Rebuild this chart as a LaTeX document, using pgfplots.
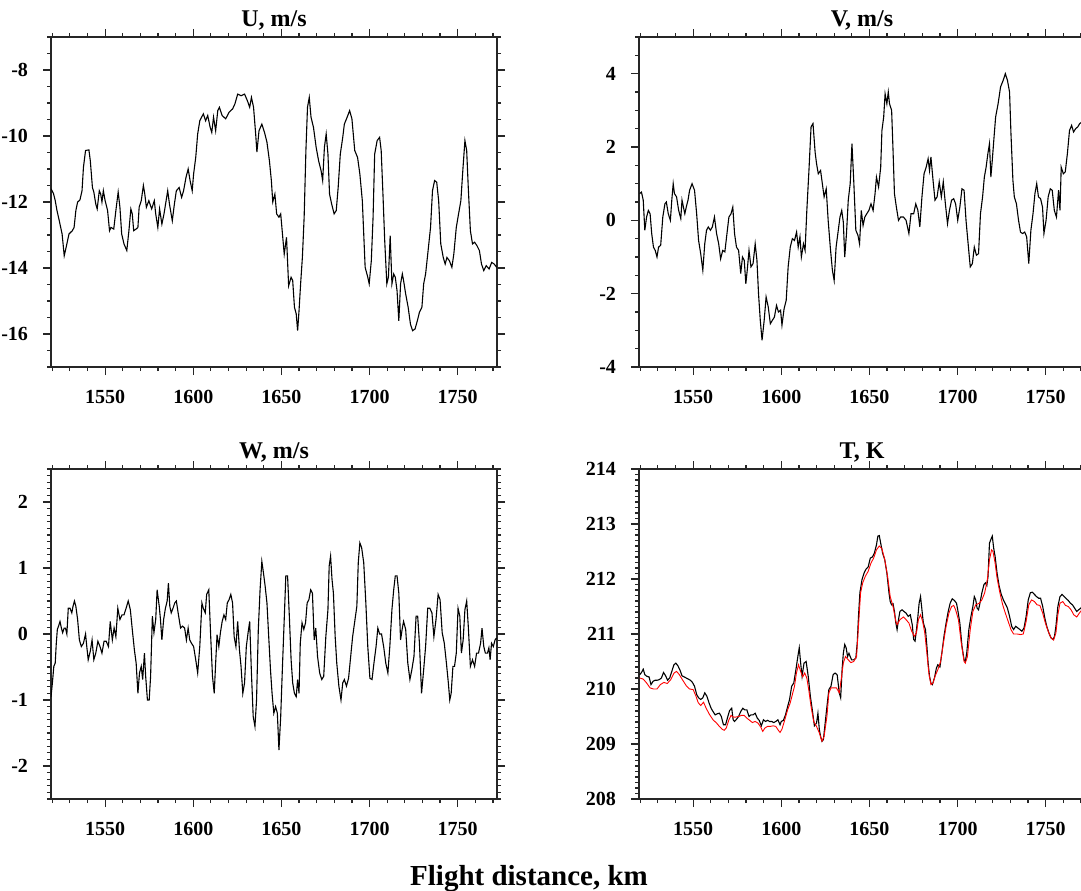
\documentclass[border=0pt]{standalone}
\usepackage{fontspec}
\setmainfont{Liberation Serif}
\usepackage{pgfplots}
\pgfplotsset{compat=1.18}

\pgfplotsset{
  panel/.style={
    scale only axis, width=223pt, height=165pt,
    xmin=1519.3, xmax=1772.3,
    xtick={1550,1600,...,1750},
    minor xtick={1520,1530,...,1770},
    tick align=outside, tick pos=both,
    major tick length=4pt, minor tick length=2pt,
    axis line style={line width=0.7pt, black!85},
    tick style={black!85, line width=0.6pt},
    ticklabel style={font=\bfseries\fontsize{10}{12}\selectfont},
    /pgf/number format/assume math mode=true,
    /pgf/number format/1000 sep={},
    yticklabel style={xshift=-4pt},
    xticklabel style={yshift=-4pt},
    title style={at={(0.5,1)}, anchor=base, yshift=-0.9pt,
                 font=\bfseries\fontsize{12}{14}\selectfont},
  },
  trace/.style={black, line width=0.55pt, mark=none},
}

\begin{document}
\begin{tikzpicture}
\useasboundingbox (0,0) rectangle (540.5pt,445pt);

% U
\begin{axis}[panel, at={(25.5pt,261.5pt)}, anchor=south west,
  title={U, m/s}, ymin=-17, ymax=-7,
  ytick={-16,-14,...,-8}, minor ytick={-17,-16.5,...,-7}]
\addplot[trace] coordinates {
(1519.3,-11.60)(1520.7,-11.74)(1521.7,-11.96)(1522.7,-12.26)(1524.0,-12.57)(1525.6,-12.97)(1526.8,-13.63)(1527.9,-13.37)
(1529.5,-12.97)(1531.4,-12.87)(1532.4,-12.77)(1533.4,-12.26)(1534.4,-12.00)(1535.7,-11.94)(1536.9,-11.66)(1537.7,-10.95)
(1538.9,-10.44)(1540.8,-10.42)(1541.6,-10.75)(1542.8,-11.56)(1543.6,-11.70)(1544.7,-12.06)(1545.5,-12.21)(1546.7,-11.66)
(1547.5,-11.76)(1548.2,-12.00)(1549.0,-11.66)(1550.0,-11.96)(1551.4,-12.26)(1552.5,-12.87)(1553.3,-12.77)(1554.9,-12.82)
(1556.1,-12.26)(1557.4,-11.70)(1558.4,-12.16)(1559.4,-12.97)(1560.7,-13.27)(1562.3,-13.47)(1563.5,-12.87)(1564.6,-12.21)
(1565.4,-12.36)(1566.2,-12.87)(1567.6,-12.82)(1568.6,-12.77)(1569.3,-12.16)(1570.5,-11.96)(1571.7,-11.50)(1572.5,-11.76)
(1573.4,-12.16)(1574.8,-11.96)(1576.4,-12.21)(1577.9,-11.96)(1578.7,-12.36)(1579.9,-12.77)(1580.9,-12.21)(1582.2,-12.67)
(1583.4,-12.36)(1584.6,-11.96)(1585.5,-11.66)(1586.5,-12.06)(1588.1,-12.57)(1589.3,-12.06)(1590.4,-11.66)(1592.0,-11.56)
(1593.4,-11.86)(1594.5,-11.66)(1595.9,-11.25)(1597.1,-11.00)(1598.2,-11.35)(1599.4,-11.66)(1600.2,-11.15)(1601.4,-10.65)
(1602.5,-9.94)(1603.7,-9.54)(1605.7,-9.33)(1607.0,-9.54)(1608.2,-9.38)(1609.6,-9.74)(1610.5,-9.89)(1611.5,-9.43)
(1612.7,-9.84)(1613.9,-9.23)(1614.8,-9.13)(1616.4,-9.38)(1618.4,-9.48)(1620.3,-9.28)(1622.3,-9.18)(1623.6,-9.03)
(1625.2,-8.73)(1627.1,-8.78)(1629.1,-8.73)(1630.7,-8.93)(1632.0,-9.13)(1633.0,-8.83)(1634.2,-9.13)(1635.4,-9.94)
(1636.1,-10.49)(1637.3,-9.84)(1638.9,-9.64)(1640.4,-9.89)(1641.8,-10.19)(1643.2,-10.75)(1644.3,-11.35)(1645.1,-12.00)
(1646.3,-11.76)(1647.3,-12.36)(1648.6,-12.46)(1649.6,-12.36)(1650.6,-12.97)(1651.6,-13.58)(1652.9,-13.07)(1654.1,-14.54)
(1655.5,-14.28)(1656.4,-14.38)(1657.4,-15.19)(1658.4,-15.39)(1659.2,-15.90)(1660.0,-15.29)(1660.9,-14.48)(1661.9,-13.68)
(1662.9,-12.46)(1663.9,-10.44)(1664.8,-9.13)(1665.8,-8.83)(1666.8,-9.43)(1668.2,-9.74)(1669.7,-10.34)(1671.1,-10.75)
(1672.5,-11.05)(1673.4,-11.35)(1674.4,-10.34)(1675.4,-9.94)(1676.4,-10.55)(1677.3,-11.76)(1678.5,-12.06)(1679.9,-12.36)
(1681.1,-12.26)(1682.2,-11.56)(1683.4,-10.55)(1684.8,-10.04)(1685.7,-9.64)(1687.3,-9.43)(1688.7,-9.23)(1690.0,-9.48)
(1691.6,-10.44)(1693.2,-10.65)(1694.5,-11.15)(1695.9,-11.96)(1697.5,-13.98)(1699.0,-14.28)(1699.8,-14.48)(1701.0,-13.78)
(1702.0,-12.46)(1702.9,-10.55)(1704.3,-10.14)(1705.7,-10.04)(1706.6,-10.44)(1707.6,-11.76)(1708.6,-13.17)(1709.8,-14.48)
(1710.7,-14.28)(1711.7,-13.02)(1712.7,-14.48)(1713.7,-14.18)(1714.6,-14.28)(1715.6,-14.69)(1716.6,-15.60)(1717.6,-14.48)
(1718.6,-14.18)(1719.3,-14.38)(1720.5,-14.79)(1721.9,-15.19)(1723.2,-15.70)(1724.4,-15.90)(1725.8,-15.85)(1727.1,-15.60)
(1728.3,-15.34)(1729.7,-15.19)(1730.7,-14.48)(1731.8,-14.18)(1733.0,-13.58)(1734.6,-12.77)(1735.7,-11.66)(1736.9,-11.35)
(1738.1,-11.40)(1739.2,-11.96)(1740.4,-13.27)(1741.8,-13.68)(1742.9,-13.88)(1743.9,-13.68)(1745.3,-13.78)(1746.7,-13.98)
(1747.8,-13.58)(1749.2,-12.77)(1750.5,-12.36)(1751.8,-11.96)(1752.9,-11.05)(1754.1,-10.14)(1755.1,-10.44)(1756.0,-11.56)
(1757.2,-12.87)(1758.4,-13.27)(1759.6,-13.22)(1760.9,-13.32)(1762.3,-13.47)(1763.5,-13.88)(1764.8,-14.08)(1766.2,-13.93)
(1767.8,-14.03)(1769.3,-13.83)(1770.7,-13.88)(1772.1,-13.98)
};
\end{axis}

% V
\begin{axis}[panel, at={(319.5pt,261.5pt)}, anchor=south west,
  title={V, m/s}, ymin=-4, ymax=5,
  ytick={-4,-2,...,4}, minor ytick={-4,-3.5,...,5}]
\addplot[trace] coordinates {
(1519.7,0.73)(1520.7,0.77)(1521.7,0.55)(1522.6,-0.27)(1523.6,0.09)(1524.6,0.27)(1525.6,0.18)(1526.5,-0.36)
(1527.5,-0.73)(1528.5,-0.82)(1529.5,-1.00)(1530.4,-0.73)(1531.6,-0.68)(1532.8,0.09)(1534.0,0.45)(1534.8,0.50)
(1535.9,0.18)(1537.1,0.00)(1537.9,0.55)(1538.7,1.00)(1539.4,0.73)(1540.6,0.64)(1541.8,0.27)(1543.0,0.05)
(1543.7,0.55)(1544.5,0.36)(1545.3,0.18)(1546.1,0.36)(1547.1,0.55)(1548.0,0.82)(1549.4,1.00)(1550.8,0.82)
(1552.0,0.18)(1553.1,-0.55)(1554.3,-0.91)(1555.5,-1.36)(1556.6,-0.64)(1557.6,-0.27)(1558.6,-0.18)(1559.8,-0.27)
(1560.9,-0.18)(1562.1,0.09)(1563.3,-0.36)(1564.5,-0.64)(1565.6,-1.05)(1566.8,-0.82)(1568.0,-0.86)(1569.2,-0.36)
(1570.3,0.09)(1571.5,0.18)(1572.5,0.36)(1573.5,-0.36)(1574.6,-0.73)(1575.8,-0.82)(1577.0,-1.45)(1578.0,-1.00)
(1579.0,-1.09)(1579.9,-1.73)(1580.7,-1.36)(1581.7,-0.82)(1582.8,-1.27)(1584.0,-1.18)(1585.2,-0.64)(1586.2,-1.09)
(1587.1,-2.00)(1588.1,-2.73)(1589.1,-3.27)(1590.3,-2.73)(1591.4,-2.09)(1592.6,-2.36)(1593.8,-2.82)(1594.9,-2.73)
(1596.1,-2.64)(1597.3,-2.32)(1598.4,-2.50)(1599.6,-2.45)(1600.4,-2.86)(1601.6,-2.41)(1602.8,-2.18)(1603.9,-1.27)
(1605.1,-0.73)(1606.3,-0.50)(1607.5,-0.55)(1608.7,-0.32)(1609.6,-0.73)(1610.6,-0.45)(1611.4,-1.00)(1612.6,-0.64)
(1613.5,-0.82)(1614.5,0.27)(1615.7,1.36)(1616.9,2.55)(1618.0,2.64)(1619.2,1.86)(1620.0,1.55)(1621.0,1.27)
(1622.3,1.36)(1623.3,1.00)(1624.3,0.64)(1625.5,0.86)(1626.6,0.00)(1627.8,-0.73)(1629.0,-1.36)(1630.0,-1.64)
(1631.1,-0.73)(1632.1,-0.36)(1633.3,0.09)(1634.3,0.27)(1635.2,-0.05)(1636.0,-1.00)(1637.0,-0.36)(1638.0,0.55)
(1639.1,1.00)(1640.1,2.09)(1641.1,1.09)(1642.3,-0.27)(1643.5,-0.41)(1644.4,-0.64)(1645.4,0.27)(1646.4,-0.14)
(1647.4,0.09)(1648.5,0.18)(1649.7,0.27)(1650.9,0.45)(1652.1,0.27)(1653.2,0.73)(1654.0,1.18)(1655.2,0.91)
(1656.4,1.45)(1657.1,2.45)(1658.1,2.82)(1658.9,3.45)(1659.9,3.18)(1660.7,3.50)(1661.4,3.18)(1662.6,3.00)
(1663.4,1.91)(1664.2,0.73)(1665.3,0.36)(1666.5,0.00)(1667.7,0.09)(1669.3,0.09)(1670.8,0.00)(1672.4,-0.36)
(1673.6,0.18)(1675.1,0.18)(1676.3,0.45)(1677.5,0.27)(1678.6,-0.18)(1679.8,0.64)(1681.0,1.27)(1682.2,1.45)
(1683.3,1.68)(1684.1,1.36)(1684.9,1.73)(1686.1,1.09)(1687.2,0.55)(1688.4,0.64)(1689.6,1.05)(1690.8,0.64)
(1691.9,1.05)(1693.1,0.45)(1694.3,-0.09)(1695.4,0.27)(1696.6,0.55)(1697.8,0.59)(1698.9,0.45)(1700.1,0.00)
(1701.3,0.36)(1702.5,0.86)(1703.7,0.82)(1704.8,0.00)(1706.0,-0.64)(1707.2,-1.27)(1708.4,-1.18)(1709.5,-0.73)
(1710.7,-0.95)(1711.9,-0.91)(1713.0,0.18)(1714.2,0.64)(1715.2,1.18)(1716.2,1.45)(1717.2,1.82)(1718.1,2.09)
(1718.9,1.18)(1719.7,1.64)(1720.7,2.27)(1721.6,2.82)(1723.0,3.18)(1724.4,3.64)(1725.9,3.82)(1727.1,4.00)
(1728.3,3.82)(1729.5,3.50)(1730.3,2.36)(1731.4,1.09)(1732.2,0.64)(1733.4,0.45)(1734.6,0.00)(1735.7,-0.32)
(1736.9,-0.36)(1738.1,-0.32)(1739.2,-0.45)(1740.4,-1.18)(1741.6,-0.27)(1742.8,0.18)(1743.9,0.73)(1744.9,1.00)
(1745.9,0.64)(1747.1,0.59)(1748.2,0.36)(1749.0,-0.36)(1750.2,0.00)(1751.4,0.64)(1752.6,0.86)(1753.7,0.82)
(1754.9,0.27)(1756.1,0.09)(1757.3,0.82)(1758.1,0.27)(1758.8,1.45)(1760.0,1.27)(1761.1,1.32)(1762.3,1.82)
(1763.5,2.45)(1764.7,2.59)(1765.8,2.41)(1767.0,2.50)(1768.2,2.55)(1769.3,2.64)(1770.5,2.68)(1772.0,2.70)
};
\end{axis}

% W
\begin{axis}[panel, at={(25.5pt,45.5pt)}, anchor=south west,
  title={W, m/s}, ymin=-2.5, ymax=2.5,
  ytick={-2,-1,...,2}, minor ytick={-2.5,-2.4,...,2.5}]
\addplot[trace] coordinates {
(1519.3,-0.95)(1520.1,-0.74)(1520.9,-0.49)(1521.7,-0.44)(1522.3,-0.14)(1522.9,0.07)(1523.6,0.12)(1524.4,0.19)
(1525.2,0.09)(1525.9,0.02)(1526.8,0.09)(1527.5,0.09)(1528.3,0.00)(1529.1,0.39)(1530.1,0.39)(1531.1,0.32)
(1531.8,0.42)(1532.6,0.50)(1533.4,0.42)(1534.4,0.22)(1535.4,-0.09)(1536.5,-0.19)(1537.7,-0.14)(1538.9,0.00)
(1539.6,-0.19)(1540.4,-0.39)(1541.6,-0.26)(1542.6,-0.09)(1543.6,-0.39)(1544.7,-0.29)(1545.9,-0.11)(1547.1,-0.19)
(1548.2,-0.29)(1549.4,-0.11)(1550.6,-0.11)(1551.9,-0.19)(1552.9,0.19)(1554.1,-0.09)(1555.1,0.09)(1556.1,-0.04)
(1557.2,0.39)(1558.4,0.22)(1559.6,0.29)(1560.7,0.29)(1561.9,0.39)(1563.1,0.50)(1564.3,0.37)(1565.4,0.07)
(1566.6,-0.24)(1567.6,-0.44)(1568.6,-0.90)(1569.5,-0.59)(1570.5,-0.49)(1571.3,-0.69)(1572.3,-0.29)(1573.0,-0.64)
(1574.0,-1.00)(1575.0,-1.00)(1575.8,-0.64)(1576.8,0.27)(1577.7,0.02)(1578.7,0.22)(1579.5,0.67)(1580.7,0.42)
(1581.4,0.22)(1582.2,-0.09)(1583.2,0.22)(1584.2,0.39)(1585.2,0.50)(1585.9,0.77)(1586.7,0.42)(1587.5,0.32)
(1588.5,0.39)(1589.5,0.47)(1590.4,0.50)(1591.6,0.29)(1592.8,0.09)(1593.9,0.12)(1595.1,0.09)(1596.1,-0.09)
(1597.1,0.09)(1598.0,-0.09)(1599.0,-0.14)(1600.2,-0.19)(1601.4,-0.39)(1602.5,-0.59)(1603.7,-0.19)(1604.9,0.47)
(1605.7,0.39)(1606.8,0.32)(1607.6,0.60)(1608.8,0.67)(1609.9,-0.04)(1610.9,-0.64)(1611.9,-0.90)(1612.7,-0.44)
(1613.5,-0.01)(1614.5,-0.19)(1615.4,0.02)(1616.4,0.19)(1617.4,0.29)(1618.4,0.22)(1619.3,0.47)(1620.3,0.52)
(1621.3,0.60)(1622.3,0.47)(1623.2,-0.04)(1624.2,-0.19)(1625.2,0.19)(1626.2,-0.24)(1627.1,-0.49)(1628.1,-0.90)
(1629.1,-0.74)(1630.1,-0.19)(1631.1,0.02)(1632.0,0.19)(1633.0,-0.59)(1634.0,-1.25)(1635.0,-1.40)(1635.9,-1.00)
(1636.9,0.07)(1637.9,0.67)(1638.9,1.10)(1639.8,0.93)(1640.8,0.72)(1641.8,0.47)(1642.8,-0.04)(1643.8,-0.54)
(1644.7,-0.90)(1645.7,-1.20)(1646.7,-1.10)(1647.7,-1.20)(1648.6,-1.76)(1649.6,-1.25)(1650.6,-0.49)(1651.6,0.22)
(1652.5,0.88)(1653.5,0.88)(1654.5,0.27)(1655.5,-0.39)(1656.4,-0.74)(1657.4,-0.90)(1658.4,-0.95)(1659.2,-0.69)
(1660.0,-0.90)(1660.7,-0.14)(1661.7,0.17)(1662.7,0.07)(1663.7,0.17)(1664.6,0.47)(1665.6,0.52)(1666.6,0.67)
(1667.6,0.62)(1668.6,-0.09)(1669.5,0.09)(1670.5,-0.34)(1671.7,-0.59)(1672.9,-0.69)(1674.0,-0.64)(1675.2,-0.04)
(1676.4,0.37)(1677.1,1.03)(1677.9,1.18)(1678.7,0.83)(1679.5,0.62)(1680.5,-0.04)(1681.4,-0.44)(1682.6,-0.79)
(1683.8,-1.00)(1684.8,-0.74)(1685.7,-0.69)(1686.9,-0.79)(1688.1,-0.67)(1689.3,-0.34)(1690.4,-0.04)(1691.6,0.19)
(1692.8,0.42)(1693.6,1.08)(1694.5,1.38)(1695.5,1.31)(1696.7,1.08)(1697.9,0.47)(1699.0,-0.19)(1700.2,-0.67)
(1701.4,-0.69)(1702.5,-0.44)(1703.7,-0.19)(1704.7,0.09)(1705.7,0.00)(1706.8,0.00)(1708.0,-0.19)(1709.2,-0.44)
(1710.4,-0.59)(1711.5,-0.19)(1712.7,0.37)(1713.7,0.67)(1714.6,0.88)(1715.6,0.88)(1716.6,0.62)(1717.6,-0.09)
(1718.6,0.09)(1719.3,0.19)(1720.5,0.07)(1721.7,-0.44)(1722.9,-0.69)(1724.0,-0.54)(1725.2,-0.34)(1726.4,0.27)
(1727.3,0.27)(1728.3,-0.14)(1729.5,-0.90)(1730.7,-0.54)(1731.8,-0.19)(1733.0,0.39)(1734.2,0.39)(1735.4,0.32)
(1736.5,-0.04)(1737.7,0.22)(1738.9,0.60)(1740.0,0.52)(1741.2,0.02)(1742.4,-0.14)(1743.6,-0.44)(1744.7,-0.74)
(1745.5,-1.00)(1746.3,-0.90)(1747.3,-0.49)(1748.2,-0.49)(1749.2,-0.29)(1750.2,0.39)(1751.2,0.27)(1752.1,-0.29)
(1753.1,-0.09)(1754.1,0.37)(1755.1,0.50)(1756.0,0.12)(1757.2,-0.49)(1758.4,-0.39)(1759.6,-0.49)(1760.7,-0.29)
(1761.8,-0.29)(1763.0,-0.14)(1763.8,0.09)(1764.8,-0.19)(1765.7,-0.29)(1766.9,-0.29)(1767.7,-0.21)(1768.4,-0.39)
(1769.2,-0.14)(1770.2,-0.19)(1771.2,-0.09)(1772.0,-0.06)
};
\end{axis}

% T
\begin{axis}[panel, at={(319.5pt,45.5pt)}, anchor=south west,
  title={T, K}, ymin=208, ymax=214,
  ytick={208,209,...,214}, minor ytick={208,208.1,...,214}]
\addplot[trace] coordinates {
(1519.7,210.26)(1520.7,210.30)(1521.7,210.36)(1522.6,210.26)(1523.8,210.23)(1525.0,210.22)(1526.1,210.08)(1527.3,210.14)
(1528.5,210.16)(1529.7,210.16)(1530.8,210.17)(1532.0,210.20)(1533.2,210.30)(1534.4,210.24)(1535.5,210.16)(1536.7,210.20)
(1537.9,210.32)(1539.1,210.44)(1540.2,210.47)(1541.4,210.42)(1542.6,210.34)(1543.7,210.24)(1544.9,210.22)(1546.1,210.20)
(1547.3,210.18)(1548.4,210.16)(1549.6,210.12)(1550.8,210.05)(1552.0,209.90)(1553.1,209.84)(1554.3,209.81)(1555.5,209.84)
(1556.6,209.93)(1557.8,209.87)(1559.0,209.75)(1560.2,209.65)(1561.3,209.59)(1562.5,209.53)(1563.7,209.55)(1564.9,209.56)
(1566.0,209.50)(1567.2,209.35)(1568.4,209.35)(1569.6,209.49)(1570.7,209.61)(1571.9,209.65)(1572.7,209.44)(1573.5,209.41)
(1574.6,209.45)(1575.8,209.50)(1577.0,209.59)(1578.2,209.65)(1579.3,209.62)(1580.5,209.62)(1581.7,209.50)(1582.8,209.53)
(1584.0,209.53)(1585.2,209.56)(1586.4,209.47)(1587.5,209.43)(1588.7,209.33)(1589.9,209.44)(1591.1,209.41)(1592.2,209.43)
(1593.4,209.41)(1594.6,209.41)(1595.7,209.39)(1596.9,209.41)(1598.1,209.44)(1599.3,209.35)(1600.0,209.41)(1601.2,209.43)
(1602.4,209.53)(1603.6,209.68)(1604.7,209.81)(1605.9,210.05)(1607.1,210.11)(1608.3,210.35)(1609.4,210.59)(1610.2,210.75)
(1611.0,210.47)(1611.8,210.23)(1612.9,210.47)(1614.1,210.50)(1615.3,210.23)(1616.5,209.87)(1617.6,209.62)(1618.8,209.33)
(1620.0,209.38)(1620.8,209.56)(1621.6,209.26)(1622.3,209.14)(1623.1,209.05)(1623.9,209.08)(1624.7,209.32)(1625.9,209.68)
(1627.0,209.99)(1628.2,210.05)(1629.4,210.26)(1630.5,210.29)(1631.7,210.26)(1632.9,209.93)(1633.7,209.84)(1634.5,210.35)
(1635.2,210.65)(1636.0,210.81)(1636.8,210.75)(1637.6,210.59)(1638.4,210.65)(1639.1,210.59)(1639.9,210.53)(1641.1,210.53)
(1642.3,210.56)(1643.1,210.84)(1643.8,211.32)(1644.6,211.75)(1645.8,211.99)(1647.0,212.11)(1648.1,212.18)(1649.3,212.22)
(1650.5,212.38)(1651.7,212.40)(1652.8,212.47)(1654.0,212.62)(1654.8,212.78)(1655.6,212.79)(1656.4,212.65)(1657.5,212.47)
(1658.7,212.35)(1659.9,212.11)(1661.1,211.75)(1661.8,211.59)(1662.6,211.53)(1663.4,211.55)(1664.2,211.41)(1665.0,211.20)
(1665.7,211.08)(1666.5,211.26)(1667.3,211.41)(1668.5,211.44)(1669.6,211.41)(1670.8,211.38)(1672.0,211.32)(1673.2,211.35)
(1674.3,211.17)(1675.1,210.90)(1675.9,210.87)(1676.7,211.08)(1677.5,211.32)(1678.2,211.56)(1679.0,211.68)(1679.8,211.44)
(1680.6,211.20)(1681.8,211.08)(1682.6,210.78)(1683.3,210.47)(1684.1,210.23)(1684.9,210.11)(1685.7,210.08)(1686.9,210.20)
(1688.0,210.38)(1688.8,210.44)(1690.0,210.40)(1691.2,210.68)(1692.3,210.96)(1693.5,211.20)(1694.7,211.41)(1695.8,211.56)
(1697.0,211.64)(1698.2,211.61)(1699.4,211.56)(1700.1,211.44)(1701.3,211.20)(1702.5,210.78)(1703.7,210.53)(1704.4,210.50)
(1705.2,210.65)(1706.4,211.08)(1707.6,211.32)(1708.7,211.50)(1709.5,211.68)(1710.3,211.62)(1711.1,211.47)(1711.9,211.44)
(1712.7,211.56)(1713.8,211.75)(1715.0,211.90)(1715.8,211.93)(1716.6,211.88)(1717.3,212.05)(1718.1,212.65)(1718.9,212.72)
(1719.7,212.78)(1720.5,212.56)(1721.3,212.41)(1722.4,212.11)(1723.6,211.87)(1724.8,211.72)(1726.0,211.62)(1727.1,211.55)
(1728.3,211.47)(1729.5,211.32)(1730.7,211.14)(1731.8,211.08)(1733.0,211.14)(1734.2,211.11)(1735.4,211.08)(1736.5,211.05)
(1737.7,211.11)(1738.9,211.32)(1740.1,211.62)(1741.3,211.75)(1742.4,211.76)(1743.6,211.72)(1744.8,211.68)(1746.0,211.65)
(1747.1,211.65)(1748.3,211.50)(1749.5,211.29)(1750.6,211.14)(1751.8,211.02)(1753.0,210.93)(1754.2,210.90)(1755.0,210.96)
(1755.8,211.14)(1756.9,211.50)(1758.1,211.68)(1759.3,211.72)(1760.5,211.68)(1761.7,211.64)(1762.8,211.61)(1764.0,211.56)
(1765.2,211.53)(1766.4,211.47)(1767.6,211.41)(1768.7,211.44)(1769.9,211.47)(1770.6,211.50)(1772.0,211.52)
};
\addplot[red, line width=0.45pt, mark=none] coordinates {
(1519.7,210.20)(1521.7,210.18)(1523.6,210.11)(1525.6,210.02)(1527.5,210.00)(1529.5,210.00)(1531.4,210.08)(1533.4,210.12)
(1535.3,210.10)(1537.3,210.17)(1539.2,210.29)(1540.6,210.32)(1542.2,210.26)(1544.1,210.16)(1546.1,210.06)(1548.0,210.00)
(1550.0,209.99)(1551.6,209.87)(1552.9,209.75)(1554.3,209.70)(1555.9,209.76)(1557.4,209.65)(1559.4,209.53)(1561.3,209.44)
(1563.3,209.38)(1564.9,209.32)(1566.4,209.27)(1567.6,209.25)(1568.8,209.29)(1570.3,209.44)(1571.5,209.52)(1572.7,209.49)
(1574.2,209.49)(1575.8,209.50)(1577.4,209.52)(1578.9,209.52)(1580.5,209.47)(1582.1,209.43)(1583.6,209.39)(1585.2,209.41)
(1586.8,209.38)(1588.3,209.31)(1589.5,209.23)(1590.7,209.29)(1592.2,209.32)(1593.8,209.32)(1595.4,209.33)(1596.9,209.32)
(1598.1,209.26)(1599.3,209.21)(1600.4,209.27)(1602.0,209.44)(1603.6,209.62)(1605.1,209.75)(1606.3,209.90)(1607.5,210.05)
(1608.6,210.29)(1609.8,210.44)(1611.0,210.32)(1612.2,210.22)(1613.3,210.29)(1614.5,210.20)(1615.7,209.96)(1616.9,209.68)
(1618.4,209.41)(1620.0,209.32)(1621.6,209.20)(1623.1,209.05)(1624.3,209.14)(1625.9,209.50)(1627.0,209.93)(1628.2,210.02)
(1629.8,210.02)(1631.3,210.02)(1632.9,209.93)(1634.1,210.20)(1635.2,210.47)(1636.4,210.59)(1638.0,210.53)(1639.5,210.48)
(1641.1,210.50)(1642.7,210.59)(1643.8,211.14)(1645.0,211.75)(1646.2,211.93)(1647.7,212.05)(1649.3,212.14)(1650.9,212.29)
(1652.4,212.38)(1654.0,212.53)(1655.6,212.60)(1657.1,212.55)(1658.7,212.35)(1660.3,212.05)(1661.8,211.68)(1663.4,211.50)
(1665.0,211.23)(1665.7,211.17)(1667.3,211.26)(1669.3,211.31)(1670.8,211.26)(1672.4,211.20)(1674.0,211.05)(1675.5,210.96)
(1676.7,211.02)(1677.8,211.26)(1679.0,211.35)(1680.2,211.23)(1681.4,211.02)(1682.6,210.65)(1683.7,210.29)(1684.9,210.08)
(1686.1,210.11)(1687.2,210.23)(1688.8,210.35)(1690.4,210.50)(1692.0,210.84)(1693.5,211.14)(1695.1,211.38)(1696.6,211.50)
(1697.8,211.52)(1698.9,211.44)(1700.5,211.26)(1702.1,210.84)(1703.7,210.50)(1704.4,210.47)(1705.6,210.59)(1707.2,211.08)
(1708.7,211.41)(1710.3,211.53)(1712.3,211.56)(1713.8,211.62)(1715.4,211.75)(1716.9,211.99)(1718.1,212.35)(1719.3,212.53)
(1720.1,212.50)(1721.3,212.29)(1722.4,212.02)(1724.0,211.75)(1725.6,211.53)(1727.1,211.38)(1728.7,211.23)(1730.3,211.08)
(1731.8,211.00)(1733.8,211.00)(1735.7,210.99)(1737.3,211.00)(1738.9,211.23)(1740.4,211.53)(1742.0,211.62)(1743.6,211.59)
(1745.1,211.53)(1746.7,211.52)(1748.3,211.38)(1749.8,211.20)(1751.4,211.05)(1753.0,210.93)(1754.5,210.89)(1755.8,211.02)
(1756.9,211.35)(1758.1,211.56)(1759.7,211.59)(1761.2,211.52)(1762.8,211.50)(1764.4,211.44)(1765.9,211.35)(1767.6,211.31)
(1769.1,211.38)(1770.6,211.44)(1772.0,211.46)
};
\end{axis}

\node[anchor=base, font=\bfseries\fontsize{14.5}{17}\selectfont] at (264.5pt,2.5pt) {Flight distance, km};
\end{tikzpicture}
\end{document}
